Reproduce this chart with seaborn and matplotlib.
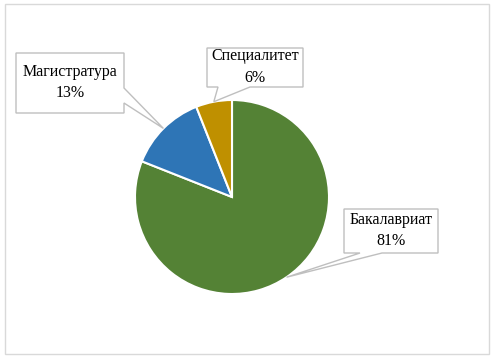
import numpy as np
import matplotlib
matplotlib.use("Agg")
import matplotlib.pyplot as plt
from matplotlib.patches import Polygon, Rectangle
import seaborn as sns

categories = ["Бакалавриат", "Магистратура", "Специалитет"]
values = [81, 13, 6]
colors = ["#548235", "#2E75B6", "#BF9000"]

sns.set_theme(style="white")
plt.rcParams['font.family'] = ['Liberation Serif', 'DejaVu Serif']

W, H = 495, 361
fig = plt.figure(figsize=(W / 100, H / 100), dpi=100)
ax = fig.add_axes([0, 0, 1, 1])

cx, cy, r = 232, H - 197, 97
wedges, _ = ax.pie(values, colors=sns.color_palette(colors), startangle=90,
                   counterclock=False, center=(cx, cy), radius=r,
                   wedgeprops=dict(edgecolor="white", linewidth=1.5))
ax.set_xlim(0, W)
ax.set_ylim(0, H)
ax.set_aspect("auto")
ax.axis("off")

# outer chart border
ax.add_patch(Rectangle((5, H - 354), 484, 350, fill=False, edgecolor="#D9D9D9", lw=1.0))

# callout boxes: (box x0, y0, x1, y1) in pixel coords (y down), pointer base
callouts = {
    "Магистратура": dict(box=(16, 53, 124, 113), base=[(124, 88), (124, 103)], side="right"),
    "Специалитет": dict(box=(207, 48, 303, 87), base=[(250, 87), (218, 87)], side="bottom"),
    "Бакалавриат": dict(box=(344, 209, 438, 253), base=[(382, 253), (360, 253)], side="bottom"),
}

for w, cat, val in zip(wedges, categories, values):
    mid = np.deg2rad((w.theta1 + w.theta2) / 2)
    tip = (cx + r * np.cos(mid), cy + r * np.sin(mid))
    c = callouts[cat]
    x0, y0, x1, y1 = c["box"]
    b1, b2 = c["base"]
    if c["side"] == "right":
        pts = [(x0, y0), (x1, y0), b1, None, b2, (x1, y1), (x0, y1)]
    else:
        pts = [(x0, y0), (x1, y0), (x1, y1), b1, None, b2, (x0, y1)]
    poly = []
    for p in pts:
        if p is None:
            poly.append(tip)
        else:
            poly.append((p[0], H - p[1]))
    ax.add_patch(Polygon(poly, closed=True, facecolor="white", edgecolor="#BFBFBF", lw=1.0, zorder=5))
    ax.text((x0 + x1) / 2, H - (y0 + y1) / 2 + 0.5, f"{cat}\n{val}%", ha="center", va="center",
            fontsize=11.5, color="black", linespacing=1.45, zorder=6)

fig.savefig("out.png", dpi=100)
